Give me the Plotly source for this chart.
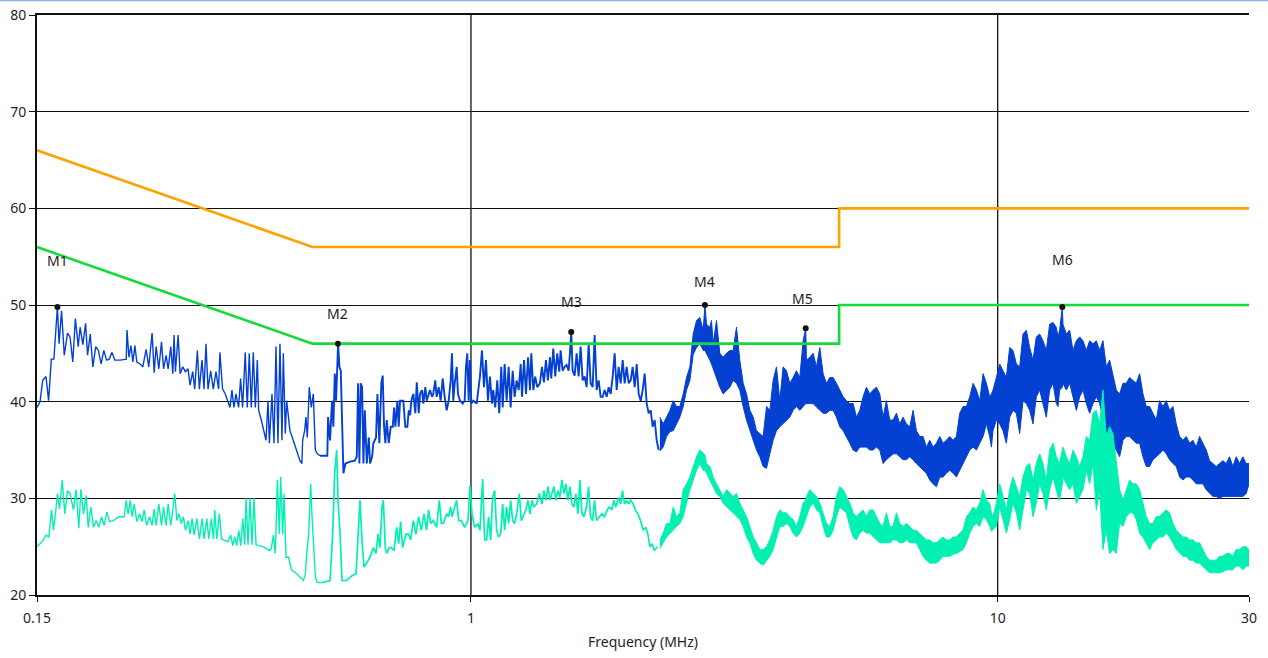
import math
import plotly.graph_objects as go

# ---------------- limit lines (MHz, dBuV) ----------------
lim_f = [0.15, 0.5, 5.0, 5.0, 30.0]
qp_limit = [66, 56, 56, 60, 60]
av_limit = [56, 46, 46, 50, 50]

# ---------------- peak trace, sparse part (MHz, dBuV) ----------------
pk_f = [
    0.150, 0.152, 0.1538, 0.156, 0.1578, 0.1597, 0.1615, 0.1640, 0.1652, 0.1670,
    0.1690, 0.1714, 0.1733, 0.1754, 0.1774, 0.1796, 0.1811, 0.1833, 0.1855, 0.1871,
    0.1893, 0.1915, 0.1939, 0.1962, 0.1985, 0.2009, 0.2033, 0.2057, 0.2082, 0.2107,
    0.2159, 0.2216, 0.2223, 0.2242, 0.2262, 0.2281, 0.2301, 0.2321, 0.2355, 0.2382,
    0.2417, 0.2445, 0.2481, 0.2503, 0.2525, 0.2555, 0.2585, 0.2608, 0.2638, 0.2661,
    0.2692, 0.2716, 0.2731, 0.2747, 0.2780, 0.2804, 0.2837, 0.2870, 0.2903, 0.2929,
    0.2963, 0.2989, 0.3024, 0.3050, 0.3086, 0.3113, 0.3140, 0.3168, 0.3205, 0.3242,
    0.3280, 0.3318, 0.3337, 0.3376, 0.3416, 0.3456, 0.3487, 0.3517, 0.3548, 0.3579,
    0.3621, 0.3653, 0.3685, 0.3728, 0.3761, 0.3794, 0.3828, 0.3861, 0.3896, 0.3930,
    0.3953, 0.3999, 0.4046, 0.4082, 0.4118, 0.4142, 0.4190, 0.4227, 0.4264, 0.4301,
    0.4339, 0.4377, 0.4403, 0.4441, 0.4468, 0.4532, 0.4598, 0.4666, 0.4735, 0.4776,
    0.4791, 0.4833, 0.4861, 0.4889, 0.4932, 0.4976, 0.5020, 0.5064, 0.5108, 0.5169,
    0.5337, 0.5354, 0.5401, 0.5448, 0.5480, 0.5514, 0.5545, 0.5594, 0.5626, 0.5660,
    0.5693, 0.5726, 0.5776, 0.5895, 0.6017, 0.6070, 0.6105, 0.6140, 0.6177, 0.6213,
    0.6249, 0.6287, 0.6342, 0.6398, 0.6433, 0.6490, 0.6527, 0.6604, 0.6643, 0.6699,
    0.6758, 0.6799, 0.6839, 0.6878, 0.6919, 0.6980, 0.7042, 0.7104, 0.7145, 0.7186,
    0.7249, 0.7292, 0.7334, 0.7440, 0.7505, 0.7572, 0.7619, 0.7663, 0.7705, 0.7773,
    0.7841, 0.7890, 0.7959, 0.8003, 0.8074, 0.8120, 0.8191, 0.8240, 0.8359, 0.8432,
    0.8480, 0.8555, 0.8607, 0.8683, 0.8759, 0.8837, 0.8915, 0.8993, 0.9072, 0.9152,
    0.9203, 0.9256, 0.9313, 0.9395, 0.9447, 0.9530, 0.9645, 0.9728, 0.9784, 0.9840,
    0.9900, 0.9956, 1.0013, 1.0102, 1.0252, 1.0401, 1.0493, 1.0585, 1.0678, 1.0771,
    1.0866, 1.0960, 1.1022, 1.1119, 1.1218, 1.1316, 1.1416, 1.1487, 1.1586, 1.1688,
    1.1791, 1.1894, 1.1999, 1.2105, 1.2211, 1.2319, 1.2427, 1.2499, 1.2609, 1.2720,
    1.2832, 1.2944, 1.3017, 1.3132, 1.3243, 1.3360, 1.3518, 1.3637, 1.3757, 1.3878,
    1.4000, 1.4123, 1.4205, 1.4330, 1.4454, 1.4581, 1.4709, 1.4798, 1.4928, 1.5059,
    1.5191, 1.5325, 1.5413, 1.5502, 1.5596, 1.5733, 1.5871, 1.6011, 1.6151, 1.6293,
    1.6437, 1.6581, 1.6727, 1.6874, 1.7022, 1.7172, 1.7323, 1.7475, 1.7629, 1.7784,
    1.7940, 1.8098, 1.8257, 1.8417, 1.8579, 1.8742, 1.8907, 1.9073, 1.9241, 1.9410,
    1.9580, 1.9752, 1.9926, 2.0101, 2.0277, 2.0456, 2.0636, 2.0817, 2.0999, 2.1184,
    2.1370, 2.1558, 2.1747, 2.1938, 2.2131, 2.2325, 2.2521, 2.2719,
]
pk_v = [
    39.4, 40.0, 42.2, 42.6, 40.1, 44.4, 44.4, 49.8, 46.0, 49.4,
    44.8, 47.1, 46.7, 44.1, 48.6, 45.7, 47.7, 45.9, 48.1, 44.8,
    47.0, 43.6, 45.7, 45.3, 43.9, 45.3, 44.3, 44.4, 45.1, 44.3,
    44.3, 44.4, 47.4, 44.6, 45.8, 44.1, 45.8, 44.1, 43.9, 43.6,
    45.4, 43.6, 47.1, 43.0, 45.7, 43.4, 46.2, 43.4, 44.8, 43.4,
    45.7, 42.9, 46.9, 43.1, 46.9, 42.9, 43.6, 43.1, 43.4, 41.7,
    43.1, 41.3, 45.3, 41.3, 44.3, 41.3, 46.0, 41.3, 43.2, 41.3,
    43.1, 41.3, 45.1, 41.3, 40.8, 40.1, 39.4, 41.2, 39.4, 40.8,
    39.4, 42.4, 39.4, 45.1, 39.4, 45.0, 39.4, 45.1, 39.4, 44.3,
    39.1, 38.1, 37.0, 36.0, 40.1, 35.7, 40.8, 35.7, 45.7, 35.7,
    46.0, 36.0, 45.0, 36.7, 40.1, 37.0, 36.0, 35.0, 33.9, 33.6,
    36.0, 37.0, 38.4, 36.3, 41.5, 39.4, 40.8, 35.0, 34.6, 34.4,
    34.4, 38.4, 36.0, 40.1, 37.4, 42.9, 40.1, 46.0, 43.6, 43.2,
    36.7, 32.6, 33.6, 33.8, 33.9, 34.3, 41.9, 33.6, 41.9, 41.5,
    33.6, 39.1, 33.6, 36.3, 33.6, 34.3, 35.7, 36.3, 40.8, 35.7,
    41.9, 42.7, 37.4, 35.7, 38.1, 35.7, 37.4, 37.4, 39.4, 37.4,
    40.1, 37.4, 40.1, 40.1, 37.4, 37.4, 39.1, 38.6, 40.1, 40.8,
    38.8, 42.0, 38.8, 40.8, 41.2, 39.8, 41.5, 40.1, 41.2, 40.5,
    40.8, 42.2, 40.5, 41.5, 40.1, 42.4, 40.5, 39.1, 40.1, 42.2,
    45.0, 40.1, 41.9, 43.6, 40.8, 40.1, 39.8, 40.1, 43.6, 45.0,
    40.1, 44.3, 39.8, 40.1, 39.8, 42.6, 45.3, 41.5, 44.3, 40.1,
    42.6, 39.8, 41.2, 39.4, 42.2, 38.8, 43.6, 39.4, 43.9, 40.1,
    43.6, 39.4, 43.2, 40.5, 42.2, 41.2, 43.9, 40.5, 44.3, 40.8,
    44.6, 41.2, 45.0, 41.2, 42.6, 41.5, 41.9, 43.6, 42.0, 44.3,
    42.2, 44.6, 42.4, 45.5, 42.6, 45.0, 43.1, 45.3, 43.2, 43.6,
    43.8, 43.2, 45.0, 47.2, 43.2, 42.7, 45.0, 42.6, 45.7, 42.2,
    42.6, 41.5, 46.0, 41.9, 41.5, 46.9, 41.2, 42.2, 40.5, 40.5,
    41.2, 40.5, 41.5, 40.8, 42.6, 45.0, 41.2, 43.6, 41.9, 44.3,
    41.9, 43.6, 41.9, 42.2, 43.6, 41.5, 43.9, 40.8, 40.1, 41.2,
    42.9, 39.8, 38.8, 39.1, 37.4, 38.1, 36.0, 35.0,
]

# ---------------- average trace, sparse part (MHz, dBuV) ----------------
av_f = [
    0.150, 0.1521, 0.1543, 0.1561, 0.1580, 0.1598, 0.1612, 0.1626, 0.1641, 0.1655,
    0.1675, 0.1694, 0.1714, 0.1734, 0.1759, 0.1780, 0.1801, 0.1817, 0.1838, 0.1860,
    0.1876, 0.1898, 0.1920, 0.1943, 0.1966, 0.1989, 0.2012, 0.2036, 0.2060, 0.2096,
    0.2145, 0.2196, 0.2215, 0.2235, 0.2254, 0.2274, 0.2294, 0.2321, 0.2348, 0.2375,
    0.2396, 0.2424, 0.2452, 0.2481, 0.2503, 0.2525, 0.2555, 0.2585, 0.2607, 0.2638,
    0.2661, 0.2692, 0.2716, 0.2740, 0.2764, 0.2788, 0.2821, 0.2845, 0.2870, 0.2904,
    0.2930, 0.2955, 0.2981, 0.3016, 0.3051, 0.3087, 0.3114, 0.3151, 0.3178, 0.3215,
    0.3244, 0.3263, 0.3291, 0.3330, 0.3359, 0.3398, 0.3458, 0.3499, 0.3529, 0.3560,
    0.3591, 0.3623, 0.3655, 0.3687, 0.3719, 0.3741, 0.3774, 0.3807, 0.3840, 0.3874,
    0.3908, 0.3942, 0.4035, 0.4142, 0.4178, 0.4215, 0.4252, 0.4290, 0.4327, 0.4352,
    0.4391, 0.4417, 0.4456, 0.4508, 0.4561, 0.4669, 0.4807, 0.4849, 0.4877, 0.4920,
    0.4963, 0.4992, 0.5036, 0.5066, 0.5110, 0.5246, 0.5401, 0.5463, 0.5511, 0.5559,
    0.5593, 0.5642, 0.5691, 0.5808, 0.5945, 0.6050, 0.6120, 0.6156, 0.6210, 0.6264,
    0.6320, 0.6431, 0.6526, 0.6602, 0.6660, 0.6719, 0.6778, 0.6817, 0.6877, 0.6917,
    0.6998, 0.7060, 0.7142, 0.7226, 0.7290, 0.7354, 0.7418, 0.7526, 0.7614, 0.7681,
    0.7771, 0.7862, 0.7954, 0.8047, 0.8141, 0.8237, 0.8309, 0.8382, 0.8480, 0.8606,
    0.8707, 0.8784, 0.8861, 0.8992, 0.9070, 0.9150, 0.9203, 0.9312, 0.9393, 0.9476,
    0.9587, 0.9727, 0.9870, 0.9956, 1.0044, 1.0161, 1.0311, 1.0401, 1.0523, 1.0615,
    1.0709, 1.0802, 1.0898, 1.0993, 1.1090, 1.1187, 1.1286, 1.1385, 1.1485, 1.1586,
    1.1688, 1.1790, 1.1894, 1.1998, 1.2103, 1.2209, 1.2352, 1.2461, 1.2607, 1.2717,
    1.2829, 1.2941, 1.3055, 1.3169, 1.3324, 1.3480, 1.3638, 1.3758, 1.3878, 1.4000,
    1.4123, 1.4247, 1.4371, 1.4497, 1.4624, 1.4753, 1.4882, 1.5013, 1.5144, 1.5277,
    1.5411, 1.5546, 1.5683, 1.5820, 1.5959, 1.6099, 1.6240, 1.6383, 1.6575, 1.6720,
    1.6867, 1.7015, 1.7164, 1.7315, 1.7569, 1.7723, 1.7931, 1.8141, 1.8300, 1.8515,
    1.8677, 1.8841, 1.9062, 1.9229, 1.9398, 1.9568, 1.9740, 1.9913, 2.0088, 2.0324,
    2.0502, 2.0743, 2.0986, 2.1232, 2.1481, 2.1670, 2.1860, 2.2051, 2.2310, 2.2568,
]
av_v = [
    25.0, 25.4, 25.7, 26.2, 26.0, 28.8, 26.7, 28.4, 30.5, 28.9,
    31.9, 28.4, 30.8, 30.5, 28.8, 30.9, 26.9, 30.9, 28.4, 30.3,
    27.0, 29.1, 27.0, 27.7, 27.0, 28.1, 27.2, 28.6, 27.6, 27.7,
    28.1, 28.1, 29.8, 28.4, 29.8, 28.1, 29.4, 27.6, 28.4, 27.6,
    28.8, 27.2, 28.1, 27.2, 28.9, 27.2, 29.4, 27.2, 29.1, 27.2,
    29.4, 27.2, 29.1, 30.5, 27.7, 28.4, 27.4, 28.1, 26.7, 27.7,
    26.3, 27.9, 26.2, 27.9, 25.8, 27.9, 25.8, 27.9, 25.8, 27.9,
    25.8, 28.8, 25.8, 28.4, 25.8, 25.7, 25.5, 26.2, 25.1, 26.0,
    25.1, 26.7, 25.1, 27.9, 25.2, 30.0, 25.2, 30.0, 25.2, 30.0,
    25.2, 25.1, 25.0, 24.6, 24.8, 26.2, 24.3, 31.9, 26.3, 32.2,
    26.3, 30.5, 23.9, 23.9, 22.6, 22.2, 21.5, 22.2, 24.3, 26.3,
    31.5, 28.1, 24.3, 21.8, 21.3, 21.3, 21.5, 26.3, 32.6, 35.0,
    29.8, 26.3, 21.5, 21.5, 22.0, 22.2, 26.7, 29.8, 25.7, 22.9,
    23.2, 23.9, 24.9, 24.3, 26.3, 24.9, 29.1, 29.8, 24.9, 24.3,
    24.9, 24.9, 24.6, 27.0, 25.3, 27.6, 24.9, 26.3, 26.3, 25.7,
    27.7, 26.3, 28.1, 26.7, 28.4, 26.7, 28.8, 27.4, 27.7, 27.0,
    29.8, 27.4, 27.4, 28.4, 28.1, 29.1, 28.1, 29.1, 29.8, 27.7,
    27.7, 27.0, 27.7, 31.3, 28.4, 27.0, 27.4, 26.7, 32.0, 25.7,
    25.7, 28.1, 25.7, 30.1, 30.8, 26.7, 26.0, 26.3, 29.4, 26.7,
    29.1, 27.4, 29.8, 27.7, 27.4, 28.4, 30.5, 27.7, 28.4, 28.8,
    29.8, 28.4, 29.8, 29.1, 29.4, 30.5, 29.4, 30.8, 29.8, 31.2,
    29.8, 30.5, 31.2, 29.8, 30.8, 30.1, 31.9, 30.5, 31.5, 29.8,
    31.2, 29.4, 29.1, 30.5, 28.4, 31.9, 28.4, 28.1, 29.1, 31.2,
    28.1, 27.7, 29.8, 27.7, 28.1, 28.4, 28.1, 28.8, 29.1, 28.8,
    29.8, 29.1, 30.1, 29.4, 30.8, 29.4, 29.8, 29.4, 29.8, 29.4,
    28.8, 28.4, 27.7, 26.7, 27.0, 26.3, 25.0, 25.3, 24.6, 25.0,
]

# ---------------- dense part: envelope of both traces (MHz, dBuV) ----------------
band_f = [
    2.284, 2.317, 2.351, 2.386, 2.421, 2.456, 2.492, 2.529, 2.566, 2.604,
    2.642, 2.681, 2.720, 2.760, 2.781, 2.800, 2.841, 2.862, 2.883, 2.925,
    2.968, 3.012, 3.056, 3.101, 3.146, 3.192, 3.239, 3.287, 3.335, 3.384,
    3.434, 3.484, 3.535, 3.587, 3.640, 3.693, 3.747, 3.802, 3.858, 3.914,
    3.972, 4.030, 4.089, 4.149, 4.210, 4.272, 4.320, 4.335, 4.398, 4.463,
    4.528, 4.595, 4.662, 4.730, 4.800, 4.870, 4.942, 5.014, 5.088, 5.162,
    5.238, 5.315, 5.393, 5.472, 5.552, 5.634, 5.716, 5.800, 5.885, 5.972,
    6.059, 6.148, 6.238, 6.330, 6.423, 6.517, 6.613, 6.710, 6.808, 6.908,
    7.009, 7.112, 7.216, 7.322, 7.430, 7.539, 7.650, 7.762, 7.876, 7.991,
    8.109, 8.228, 8.349, 8.471, 8.596, 8.722, 8.850, 8.980, 9.112, 9.245,
    9.381, 9.519, 9.656, 9.730, 9.798, 9.942, 10.088, 10.236, 10.386, 10.538,
    10.693, 10.850, 11.009, 11.170, 11.334, 11.500, 11.669, 11.840, 12.014, 12.190,
    12.369, 12.550, 12.735, 12.921, 13.016, 13.111, 13.264, 13.303, 13.499, 13.697,
    13.898, 14.102, 14.309, 14.519, 14.732, 14.948, 15.167, 15.390, 15.615, 15.845,
    16.077, 16.313, 16.552, 16.795, 17.042, 17.291, 17.545, 17.802, 18.064, 18.329,
    18.597, 18.870, 19.147, 19.428, 19.713, 20.002, 20.295, 20.593, 20.895, 21.201,
    21.512, 21.828, 22.148, 22.473, 22.803, 23.137, 23.476, 23.821, 24.170, 24.525,
    24.884, 25.249, 25.620, 25.995, 26.376, 26.763, 27.156, 27.554, 27.958, 28.368,
    28.784, 29.206, 29.634, 30.0,
]
pk_hi = [
    38.4, 37.7, 38.4, 39.1, 40.1, 39.5, 39.5, 40.8, 42.5, 43.6,
    47.0, 48.4, 48.7, 47.4, 50.0, 48.0, 47.7, 48.4, 46.0, 48.4,
    45.0, 44.6, 45.0, 45.3, 45.3, 47.7, 44.3, 41.9, 40.8, 39.1,
    38.4, 37.0, 36.7, 36.4, 39.5, 39.1, 42.2, 43.6, 40.1, 43.6,
    43.2, 41.9, 42.5, 43.2, 42.5, 46.3, 47.6, 44.3, 44.6, 45.0,
    43.6, 45.6, 42.9, 41.9, 42.5, 42.5, 41.9, 41.2, 40.5, 40.1,
    39.8, 39.8, 38.4, 39.1, 40.5, 41.5, 40.8, 41.2, 41.5, 40.8,
    38.4, 40.1, 38.1, 38.1, 38.8, 37.7, 38.4, 37.7, 37.4, 39.1,
    37.0, 36.4, 36.4, 35.3, 36.0, 35.3, 35.7, 36.4, 35.7, 36.0,
    36.4, 36.0, 36.4, 38.8, 39.5, 39.5, 40.5, 41.9, 41.2, 40.1,
    42.9, 41.9, 40.5, 40.8, 41.2, 42.5, 43.9, 43.2, 42.5, 45.6,
    45.3, 43.9, 43.6, 47.0, 47.4, 45.6, 44.3, 46.7, 47.0, 46.3,
    45.3, 48.0, 48.2, 47.7, 46.7, 47.4, 49.8, 48.0, 47.0, 47.4,
    45.3, 46.3, 46.7, 46.3, 45.3, 46.3, 46.0, 46.3, 45.3, 46.3,
    43.6, 44.3, 42.9, 41.2, 40.8, 41.9, 41.9, 42.5, 42.2, 41.9,
    42.9, 40.8, 39.5, 39.5, 38.8, 38.1, 40.1, 39.5, 40.1, 39.1,
    39.5, 37.7, 36.4, 36.0, 36.4, 35.7, 36.0, 35.3, 36.4, 35.7,
    35.0, 33.9, 33.6, 33.3, 33.6, 33.9, 33.6, 34.3, 33.3, 34.3,
    33.6, 34.3, 33.6, 33.6,
]
pk_lo = [
    34.9, 35.3, 36.4, 36.9, 37.0, 37.7, 38.4, 39.5, 41.2, 42.2,
    44.9, 45.6, 46.0, 45.3, 45.3, 45.0, 44.3, 43.9, 43.6, 42.5,
    41.5, 40.8, 41.2, 41.5, 42.2, 41.9, 41.2, 39.5, 38.1, 37.0,
    36.0, 35.0, 34.3, 33.3, 33.1, 34.6, 36.0, 37.0, 37.4, 37.7,
    38.1, 38.4, 39.1, 39.5, 39.1, 39.5, 39.8, 39.8, 39.8, 39.8,
    39.5, 39.1, 38.8, 38.8, 39.1, 39.1, 38.4, 37.4, 37.0, 36.4,
    35.7, 35.0, 34.8, 35.3, 35.3, 35.3, 35.0, 35.0, 35.3, 35.0,
    33.6, 34.0, 34.3, 34.6, 34.6, 34.3, 34.0, 34.0, 34.3, 34.0,
    33.6, 33.3, 32.9, 32.6, 31.9, 31.5, 31.2, 32.2, 32.2, 32.6,
    32.9, 32.6, 32.2, 32.9, 33.6, 34.3, 35.0, 35.3, 35.0, 35.7,
    36.4, 37.7, 36.4, 35.3, 37.0, 38.1, 37.7, 37.0, 35.7, 38.4,
    39.1, 38.8, 36.7, 40.1, 39.8, 39.1, 37.7, 40.5, 41.2, 39.8,
    38.4, 41.2, 41.9, 39.8, 39.5, 41.2, 41.5, 41.9, 41.2, 41.9,
    40.5, 39.1, 40.5, 41.2, 39.8, 38.8, 39.8, 40.5, 39.8, 38.4,
    37.0, 35.7, 35.3, 35.0, 34.3, 36.0, 36.4, 36.4, 36.0, 35.7,
    35.7, 34.3, 33.3, 33.3, 34.0, 34.3, 34.6, 35.0, 34.6, 34.0,
    33.6, 33.3, 32.2, 31.9, 32.2, 32.2, 31.9, 31.5, 31.5, 31.5,
    30.9, 30.5, 30.2, 30.2, 30.0, 30.2, 30.2, 30.2, 30.2, 30.2,
    30.2, 30.2, 30.5, 31.5,
]
av_hi = [
    25.7, 26.4, 27.4, 27.4, 29.1, 28.1, 28.5, 30.9, 31.5, 32.2,
    33.3, 34.3, 35.0, 34.6, 34.5, 33.6, 33.3, 32.8, 32.2, 31.5,
    30.9, 30.2, 30.9, 30.5, 30.2, 30.5, 29.5, 28.8, 28.1, 27.1,
    26.0, 25.4, 24.7, 24.7, 25.0, 25.7, 26.7, 28.1, 28.8, 28.5,
    28.5, 28.1, 27.8, 27.1, 28.1, 29.5, 29.8, 30.2, 30.9, 30.5,
    30.2, 29.5, 28.5, 27.4, 27.1, 28.1, 30.2, 31.2, 30.9, 30.2,
    29.5, 28.5, 28.1, 28.5, 28.8, 28.1, 28.8, 28.8, 28.1, 27.4,
    27.1, 28.5, 27.1, 27.1, 28.5, 27.4, 27.1, 27.4, 27.1, 26.7,
    26.7, 26.4, 26.0, 25.7, 25.7, 25.4, 25.4, 25.7, 26.0, 25.7,
    25.7, 26.0, 26.0, 26.4, 26.7, 28.1, 28.5, 29.1, 28.8, 29.5,
    30.9, 29.8, 29.5, 28.5, 28.1, 29.5, 31.5, 30.2, 28.8, 30.9,
    32.2, 31.2, 30.2, 32.2, 33.3, 33.6, 31.9, 33.6, 34.6, 33.6,
    31.9, 35.0, 35.7, 34.3, 33.9, 33.6, 35.0, 35.3, 34.3, 33.6,
    35.0, 34.3, 33.3, 34.3, 36.4, 36.0, 38.8, 39.1, 37.7, 41.2,
    36.4, 37.4, 36.7, 33.6, 30.9, 29.8, 30.9, 31.9, 31.5, 31.5,
    30.9, 29.5, 28.1, 27.4, 27.4, 28.1, 28.1, 28.5, 28.8, 28.5,
    27.4, 26.7, 26.4, 26.0, 26.0, 25.7, 25.7, 25.4, 25.4, 24.7,
    24.0, 23.6, 23.6, 23.6, 24.0, 24.0, 24.3, 24.3, 24.0, 24.7,
    24.7, 25.0, 25.0, 24.7,
]
av_lo = [
    24.8, 25.4, 26.0, 26.4, 26.7, 27.1, 27.4, 28.1, 29.5, 30.9,
    31.9, 32.9, 33.6, 32.9, 32.9, 32.6, 31.9, 31.5, 31.2, 30.5,
    30.2, 29.5, 29.1, 28.8, 28.5, 28.1, 27.8, 27.1, 26.0, 25.4,
    24.3, 23.6, 23.3, 23.1, 23.6, 24.0, 24.7, 26.0, 27.1, 27.1,
    27.4, 27.1, 26.4, 26.0, 26.4, 27.1, 27.8, 28.1, 29.1, 29.5,
    28.8, 28.5, 27.1, 26.0, 26.0, 26.7, 28.1, 29.1, 28.8, 28.5,
    27.1, 26.0, 25.7, 26.4, 26.7, 26.4, 26.4, 26.0, 25.7, 25.4,
    25.4, 25.4, 25.4, 25.7, 25.7, 25.4, 25.4, 25.7, 25.4, 25.4,
    25.4, 24.7, 24.0, 23.6, 23.3, 23.3, 23.3, 23.6, 24.0, 24.0,
    24.0, 24.2, 24.3, 24.5, 24.7, 25.4, 26.4, 27.1, 27.4, 27.1,
    28.1, 27.8, 27.1, 26.6, 26.7, 27.1, 29.1, 27.8, 26.4, 27.8,
    29.5, 28.5, 26.7, 28.8, 30.9, 30.5, 28.1, 29.5, 31.5, 30.5,
    28.8, 30.9, 32.2, 30.9, 30.2, 29.8, 31.5, 32.2, 31.5, 30.9,
    31.5, 29.5, 30.2, 30.9, 32.9, 31.5, 33.6, 28.8, 30.9, 24.7,
    26.7, 24.3, 24.7, 24.3, 27.4, 27.1, 28.1, 28.5, 28.5, 27.8,
    26.4, 26.0, 25.4, 24.7, 25.4, 25.7, 26.0, 26.0, 26.4, 26.0,
    25.4, 24.7, 24.3, 24.0, 24.0, 23.6, 23.6, 23.3, 23.3, 23.0,
    22.6, 22.3, 22.3, 22.3, 22.3, 22.4, 22.6, 22.6, 22.6, 23.0,
    23.0, 22.6, 23.0, 23.0,
]

# ---------------- markers ----------------
mk_name = ["M1", "M2", "M3", "M4", "M5", "M6"]
mk_f = [0.164, 0.559, 1.550, 2.781, 4.320, 13.264]
mk_v = [49.8, 46.0, 47.2, 50.0, 47.6, 49.8]

x_ticks = [0.15, 1, 10, 30]
x_ticktext = ["0.15", "1", "10", "30"]
grid_f = [1, 10]

assert len(pk_f) == len(pk_v) and len(av_f) == len(av_v)
assert len(band_f) == len(pk_hi) == len(pk_lo) == len(av_hi) == len(av_lo)

# ---------------- styling ----------------
PEAK = "#0441D2"
AVG = "#02F0B2"
QP_C = "#FFA200"
AV_C = "#16DA3A"
FONT = "Noto Sans"
TXT = "#1e1e1e"
label_shift = [46, 30, 31, 24, 30, 47]
label_xshift = [0, 0, 0, 0, -3, 0]
DENSE_FROM = 0.5169   # sweep gets denser above this frequency -> drawn a bit heavier


def split(fs, vs, edge):
    lo = [(f, v) for f, v in zip(fs, vs) if f <= edge]
    hi = [(f, v) for f, v in zip(fs, vs) if f >= edge]
    return [p[0] for p in lo], [p[1] for p in lo], [p[0] for p in hi], [p[1] for p in hi]


pk_f1, pk_v1, pk_f2, pk_v2 = split(pk_f, pk_v, DENSE_FROM)
av_f1, av_v1, av_f2, av_v2 = split(av_f, av_v, 0.5246)

fig = go.Figure()

# peak (blue)
fig.add_trace(go.Scatter(
    x=band_f + band_f[::-1], y=pk_hi + pk_lo[::-1], mode="lines",
    fill="toself", fillcolor=PEAK, line=dict(color=PEAK, width=1), hoverinfo="skip"))
fig.add_trace(go.Scatter(x=pk_f1, y=pk_v1, mode="lines",
                         line=dict(color=PEAK, width=1.4), hoverinfo="skip"))
fig.add_trace(go.Scatter(x=pk_f2, y=pk_v2, mode="lines",
                         line=dict(color=PEAK, width=1.9), hoverinfo="skip"))
# average (cyan)
fig.add_trace(go.Scatter(
    x=band_f + band_f[::-1], y=av_hi + av_lo[::-1], mode="lines",
    fill="toself", fillcolor=AVG, line=dict(color=AVG, width=1), hoverinfo="skip"))
fig.add_trace(go.Scatter(x=av_f1, y=av_v1, mode="lines",
                         line=dict(color=AVG, width=1.4), hoverinfo="skip"))
fig.add_trace(go.Scatter(x=av_f2, y=av_v2, mode="lines",
                         line=dict(color=AVG, width=1.7), hoverinfo="skip"))
# limits
fig.add_trace(go.Scatter(x=lim_f, y=qp_limit, mode="lines",
                         line=dict(color=QP_C, width=2.6), hoverinfo="skip"))
fig.add_trace(go.Scatter(x=lim_f, y=av_limit, mode="lines",
                         line=dict(color=AV_C, width=2.6), hoverinfo="skip"))
# markers
fig.add_trace(go.Scatter(x=mk_f, y=mk_v, mode="markers",
                         marker=dict(color="#111111", size=6), hoverinfo="skip"))

for name, f, v, dy, dx in zip(mk_name, mk_f, mk_v, label_shift, label_xshift):
    fig.add_annotation(x=math.log10(f), y=v, text=name, showarrow=False,
                       yshift=dy, xshift=dx, font=dict(family=FONT, size=14, color=TXT))

# vertical decade grid lines (shapes take data values on this log axis)
for g in grid_f:
    fig.add_shape(type="line", xref="x", yref="paper", x0=g, x1=g,
                  y0=0, y1=1, line=dict(color="#111111", width=1.3), layer="below")

# thin light-blue strip at the very top of the window
fig.add_shape(type="line", xref="paper", yref="paper", x0=-37 / 1212, x1=1231 / 1212,
              y0=1 + 14.5 / 580, y1=1 + 14.5 / 580, line=dict(color="#8DB4E6", width=1.5))

fig.update_layout(
    width=1268, height=658,
    margin=dict(l=37, r=19, t=15, b=63, autoexpand=False),
    paper_bgcolor="white", plot_bgcolor="white",
    showlegend=False, hovermode=False,
    font=dict(family=FONT, size=14, color=TXT),
    xaxis=dict(
        type="log", range=[math.log10(0.15), math.log10(30)], automargin=False,
        tickvals=x_ticks, ticktext=x_ticktext, ticks="outside", ticklen=5,
        tickcolor="#111111", showgrid=False, zeroline=False,
        showline=True, linecolor="#111111", linewidth=2, mirror=True,
        ticklabelstandoff=4,
        tickfont=dict(family=FONT, size=14, color=TXT),
        title=dict(text="Frequency (MHz)", standoff=11,
                   font=dict(family=FONT, size=14, color=TXT)),
    ),
    yaxis=dict(
        range=[20, 80], dtick=10, tick0=20, ticks="outside", ticklen=6, automargin=False,
        tickcolor="#111111", showgrid=True, gridcolor="#111111", gridwidth=1,
        zeroline=False, showline=True, linecolor="#111111", linewidth=2,
        tickfont=dict(family=FONT, size=14, color=TXT),
    ),
)

fig.write_html("out.html", config={"displayModeBar": False},
               post_script="document.body.style.margin='0';document.body.style.overflow='hidden';")
